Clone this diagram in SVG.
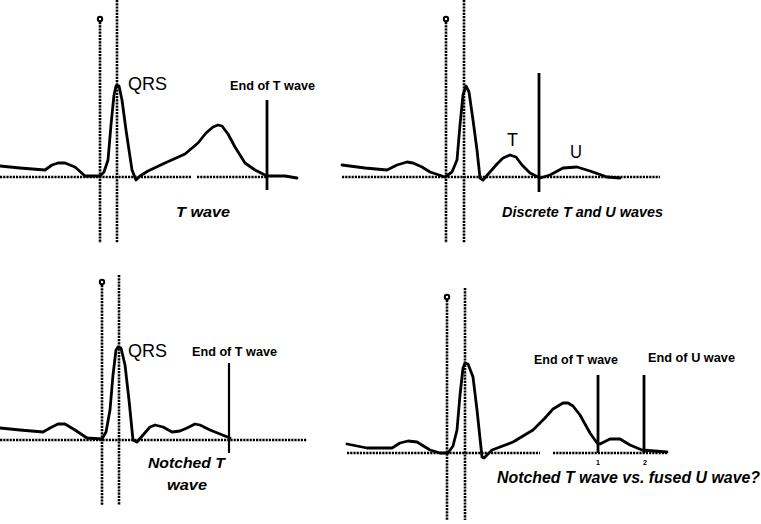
<svg xmlns="http://www.w3.org/2000/svg" width="761" height="524" viewBox="0 0 761 524">
<style>
.dot{stroke:#000;stroke-width:2.6;stroke-dasharray:2.2 1;fill:none}
.trace{stroke:#000;stroke-width:2.8;fill:none;stroke-linejoin:round;stroke-linecap:round}
.solid{stroke:#000;stroke-width:2.8;fill:none}
.lbl{font-family:"Liberation Sans",Arial,sans-serif;fill:#000}
.big{font-size:19px}
.bold{font-size:12.5px;font-weight:bold}
.cap{font-size:15px;font-weight:bold;font-style:italic}
.pin{fill:#fff;stroke:#000;stroke-width:2}
</style>
<rect width="761" height="524" fill="#fff"/>

<g id="panel-t-wave">
  <line class="dot" x1="100" y1="22" x2="100" y2="243"/>
  <circle class="pin" cx="100" cy="19" r="2.2"/>
  <line class="dot" x1="117" y1="0" x2="117" y2="243"/>
  <line class="dot" x1="0" y1="177" x2="192" y2="177"/>
  <line class="dot" x1="197" y1="177" x2="267" y2="177"/>
  <polyline class="trace" points="0,166 20,168 45,170 52,165 58,163 65,163 75,167 85,176 100,176 104,172 108,160 111,125 114,95 116,86 119,86 122,100 126,130 132,170 136,180 140,176 148,171 165,163 185,154 198,143 206,133 213,127 218,125 222,126 228,134 235,147 245,163 255,170 267,176 285,176 297,178"/>
  <line class="solid" x1="267" y1="100" x2="267" y2="190"/>
  <text class="lbl big" x="128" y="90" textLength="39" lengthAdjust="spacingAndGlyphs">QRS</text>
  <text class="lbl bold" x="230" y="90" textLength="85" lengthAdjust="spacingAndGlyphs">End of T wave</text>
  <text class="lbl cap" x="176" y="217" textLength="54" lengthAdjust="spacingAndGlyphs">T wave</text>
</g>

<g id="panel-discrete-t-u">
  <line class="dot" x1="446" y1="22" x2="446" y2="243"/>
  <circle class="pin" cx="446" cy="19" r="2.2"/>
  <line class="dot" x1="464" y1="0" x2="464" y2="243"/>
  <line class="dot" x1="342" y1="177" x2="660" y2="177"/>
  <polyline class="trace" points="342,165 365,168 387,170 397,165 407,162 413,163 422,167 430,172 445,177 452,172 457,160 460,125 463,95 466,86 469,92 473,120 477,150 480,178 483,180 490,172 497,164 503,158 510,155 516,157 522,165 530,173 540,178 550,175 563,168 577,167 590,171 607,177 620,178"/>
  <line class="solid" x1="539" y1="73" x2="539" y2="192"/>
  <text class="lbl big" x="507" y="146" textLength="11" lengthAdjust="spacingAndGlyphs">T</text>
  <text class="lbl big" x="570" y="158" textLength="12" lengthAdjust="spacingAndGlyphs">U</text>
  <text class="lbl cap" x="502" y="217" textLength="161" lengthAdjust="spacingAndGlyphs">Discrete T and U waves</text>
</g>

<g id="panel-notched-t">
  <line class="dot" x1="102" y1="285" x2="102" y2="505"/>
  <circle class="pin" cx="102" cy="282" r="2.2"/>
  <line class="dot" x1="119" y1="275" x2="119" y2="505"/>
  <line class="dot" x1="0" y1="440" x2="307" y2="440"/>
  <polyline class="trace" points="0,428 20,430 43,432 50,428 58,424 65,424 75,430 87,438 102,439 106,432 110,410 113,375 116,350 118,347 121,348 125,365 129,400 133,440 137,442 143,435 150,427 155,425 163,427 172,432 180,431 187,428 195,424 200,425 210,430 220,434 230,438"/>
  <line class="solid" x1="229" y1="363" x2="229" y2="453" style="stroke-width:2.2"/>
  <text class="lbl big" x="128" y="357" textLength="39" lengthAdjust="spacingAndGlyphs">QRS</text>
  <text class="lbl bold" x="192" y="356" textLength="85" lengthAdjust="spacingAndGlyphs">End of T wave</text>
  <text class="lbl cap" x="148" y="468" textLength="77" lengthAdjust="spacingAndGlyphs">Notched T</text>
  <text class="lbl cap" x="167" y="490" textLength="40" lengthAdjust="spacingAndGlyphs">wave</text>
</g>

<g id="panel-fused-u">
  <line class="dot" x1="447" y1="300" x2="447" y2="520"/>
  <circle class="pin" cx="447" cy="297" r="2.2"/>
  <line class="dot" x1="465" y1="288" x2="465" y2="520"/>
  <line class="dot" x1="347" y1="453" x2="540" y2="453"/>
  <line class="dot" x1="553" y1="453" x2="667" y2="453"/>
  <polyline class="trace" points="347,444 367,448 392,448 400,443 408,441 417,442 430,450 440,453 448,453 453,446 457,430 460,395 463,368 465,363 468,364 473,377 477,410 482,457 484,458 492,450 513,442 533,430 545,418 553,409 563,403 568,403 573,406 580,415 590,433 597,443 600,444 610,439 620,439 630,445 642,450 667,452"/>
  <line class="solid" x1="598" y1="375" x2="598" y2="453"/>
  <line class="solid" x1="644" y1="375" x2="644" y2="453"/>
  <text class="lbl" x="598" y="465" font-size="7" font-weight="bold" text-anchor="middle">1</text>
  <text class="lbl" x="645" y="465" font-size="7" font-weight="bold" text-anchor="middle">2</text>
  <text class="lbl bold" x="534" y="364" textLength="84" lengthAdjust="spacingAndGlyphs">End of T wave</text>
  <text class="lbl bold" x="648" y="362" textLength="87" lengthAdjust="spacingAndGlyphs">End of U wave</text>
  <text class="lbl cap" x="497" y="483" style="font-size:16px" textLength="263" lengthAdjust="spacingAndGlyphs">Notched T wave vs. fused U wave?</text>
</g>
</svg>
